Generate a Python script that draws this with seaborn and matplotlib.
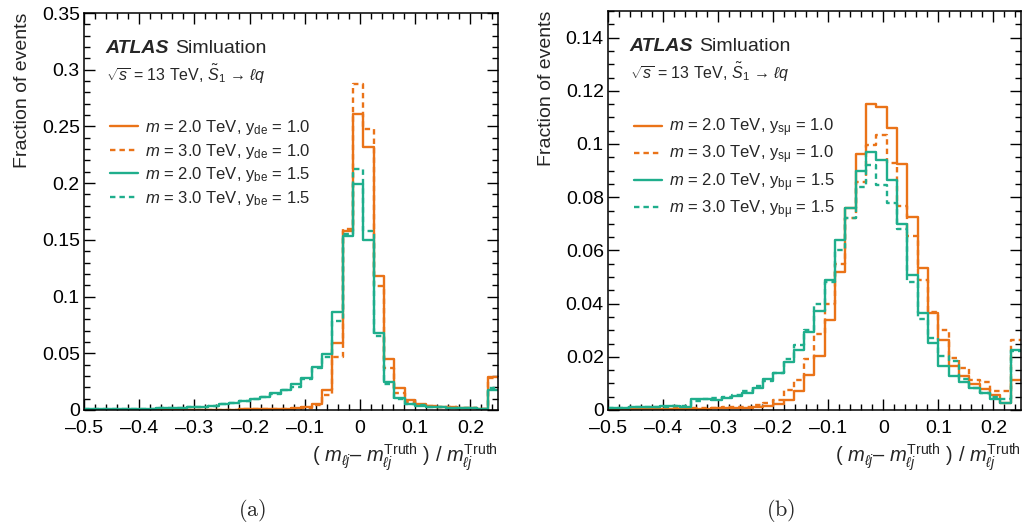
import numpy as np
import pandas as pd
import matplotlib
matplotlib.use("Agg")
import matplotlib.pyplot as plt
from matplotlib.lines import Line2D
from matplotlib.ticker import MultipleLocator, FormatStrFormatter
import seaborn as sns

# ---------------- data ----------------
x_min, x_max, n_bins = -0.5, 0.25, 40

# panel (a): electron channel
a_m2 = [0.0001, 0.0001, 0.0001, 0.0001, 0.0001, 0.0001, 0.0002, 0.0002, 0.0002, 0.0002,
        0.0003, 0.0003, 0.0003, 0.0004, 0.0004, 0.0005, 0.0006, 0.0008, 0.001, 0.0012,
        0.0015, 0.0024, 0.005, 0.0176, 0.059, 0.158, 0.261, 0.232, 0.118, 0.0447,
        0.019, 0.0088, 0.0053, 0.0038, 0.003, 0.0025, 0.002, 0.0015, 0.001, 0.0294]
a_m3 = [0.0001, 0.0001, 0.0001, 0.0001, 0.0001, 0.0001, 0.0002, 0.0002, 0.0002, 0.0002,
        0.0003, 0.0003, 0.0003, 0.0004, 0.0004, 0.0005, 0.0006, 0.0007, 0.0009, 0.001,
        0.0013, 0.002, 0.004, 0.013, 0.047, 0.16, 0.2875, 0.248, 0.109, 0.037,
        0.0147, 0.007, 0.0045, 0.0035, 0.003, 0.0025, 0.002, 0.0015, 0.001, 0.028]
a_b2 = [0.0005, 0.0006, 0.0007, 0.0008, 0.0009, 0.001, 0.0012, 0.0015, 0.0017, 0.002,
        0.0025, 0.003, 0.0037, 0.005, 0.0065, 0.0079, 0.0097, 0.0118, 0.0147, 0.0176,
        0.023, 0.028, 0.038, 0.049, 0.086, 0.153, 0.199, 0.15, 0.068, 0.025,
        0.0103, 0.0053, 0.0038, 0.003, 0.0025, 0.002, 0.002, 0.0015, 0.001, 0.018]
a_b3 = [0.0005, 0.0006, 0.0007, 0.0008, 0.0009, 0.001, 0.0012, 0.0015, 0.0017, 0.002,
        0.0025, 0.003, 0.0037, 0.005, 0.0063, 0.0078, 0.0095, 0.0115, 0.0145, 0.0172,
        0.020, 0.027, 0.037, 0.047, 0.0785, 0.155, 0.2125, 0.158, 0.065, 0.023,
        0.010, 0.0055, 0.004, 0.003, 0.0025, 0.002, 0.002, 0.0015, 0.001, 0.019]

# panel (b): muon channel
b_m2 = [0.0003, 0.0003, 0.0003, 0.0003, 0.0004, 0.0004, 0.0004, 0.0005, 0.0005, 0.0005,
        0.0006, 0.0006, 0.0006, 0.0008, 0.001, 0.0014, 0.0024, 0.0039, 0.0072, 0.0131,
        0.0204, 0.0339, 0.0517, 0.076, 0.0962, 0.115, 0.114, 0.106, 0.0923, 0.0724,
        0.0535, 0.0364, 0.0262, 0.0167, 0.0127, 0.0099, 0.008, 0.0058, 0.0027, 0.0114]
b_m3 = [0.0005, 0.0005, 0.0005, 0.0006, 0.0006, 0.0006, 0.0007, 0.0007, 0.0008, 0.0008,
        0.0009, 0.001, 0.001, 0.0012, 0.0017, 0.0025, 0.0036, 0.0074, 0.0114, 0.0192,
        0.0287, 0.040, 0.055, 0.072, 0.0858, 0.0998, 0.1035, 0.0927, 0.0767, 0.0655,
        0.0487, 0.0367, 0.030, 0.0196, 0.0158, 0.0114, 0.0104, 0.007, 0.007, 0.0264]
b_b2 = [0.0008, 0.0008, 0.001, 0.001, 0.0012, 0.0015, 0.0015, 0.0012, 0.004, 0.004,
        0.0039, 0.0046, 0.0054, 0.0064, 0.0083, 0.0117, 0.0139, 0.0179, 0.0225, 0.0293,
        0.0374, 0.0487, 0.064, 0.076, 0.09, 0.097, 0.094, 0.0864, 0.07, 0.0508,
        0.0364, 0.0252, 0.0164, 0.0127, 0.0104, 0.0083, 0.0064, 0.0042, 0.0027, 0.0227]
b_b3 = [0.0008, 0.0008, 0.001, 0.001, 0.0012, 0.0013, 0.0015, 0.0015, 0.0035, 0.004,
        0.0045, 0.005, 0.0055, 0.007, 0.009, 0.011, 0.014, 0.019, 0.0245, 0.030,
        0.040, 0.048, 0.060, 0.072, 0.084, 0.092, 0.0846, 0.078, 0.068, 0.048,
        0.0342, 0.027, 0.0204, 0.0183, 0.0115, 0.0083, 0.0065, 0.005, 0.004, 0.022]

labels_a = [r"$m$ = 2.0 TeV, y$_{\mathrm{de}}$ = 1.0",
            r"$m$ = 3.0 TeV, y$_{\mathrm{de}}$ = 1.0",
            r"$m$ = 2.0 TeV, y$_{\mathrm{be}}$ = 1.5",
            r"$m$ = 3.0 TeV, y$_{\mathrm{be}}$ = 1.5"]
labels_b = [r"$m$ = 2.0 TeV, y$_{\mathrm{sμ}}$ = 1.0",
            r"$m$ = 3.0 TeV, y$_{\mathrm{sμ}}$ = 1.0",
            r"$m$ = 2.0 TeV, y$_{\mathrm{bμ}}$ = 1.5",
            r"$m$ = 3.0 TeV, y$_{\mathrm{bμ}}$ = 1.5"]

# ---------------- style ----------------
ORANGE = "#EA7318"
GREEN = "#1FAE8C"
colors = [ORANGE, ORANGE, GREEN, GREEN]
DASH = (0, (2.3, 1.7))
styles = ["-", DASH, "-", DASH]

sns.set_theme(style="ticks")
plt.rcParams.update({
    "font.family": ["Liberation Sans", "DejaVu Sans"],
    "mathtext.fontset": "custom",
    "mathtext.rm": "Liberation Sans",
    "mathtext.it": "Liberation Sans:italic",
    "mathtext.bf": "Liberation Sans:bold",
    "axes.linewidth": 1.1,
    "axes.edgecolor": "black",
    "xtick.color": "black",
    "ytick.color": "black",
})

edges = np.linspace(x_min, x_max, n_bins + 1)
centers = 0.5 * (edges[:-1] + edges[1:])

fig = plt.figure(figsize=(10.23, 5.24), dpi=100)
W, H = 1023, 524
axA = fig.add_axes([84 / W, 1 - 410 / H, 414 / W, 397 / H])
axB = fig.add_axes([608 / W, 1 - 410 / H, 413 / W, 399 / H])


def draw(ax, series, labels, ymax, ymajor, yminor, yfmt):
    for vals, c, ls in zip(series, colors, styles):
        df = pd.DataFrame({"x": centers, "w": np.asarray(vals, dtype=float)})
        sns.histplot(data=df, x="x", weights="w", bins=n_bins, binrange=(x_min, x_max),
                     element="step", fill=False, color=c, linewidth=1.7,
                     linestyle=ls, ax=ax)
    ax.set_xlim(x_min, x_max)
    ax.set_ylim(0, ymax)
    ax.xaxis.set_major_locator(MultipleLocator(0.1))
    ax.xaxis.set_minor_locator(MultipleLocator(0.02))
    ax.yaxis.set_major_locator(MultipleLocator(ymajor))
    ax.yaxis.set_minor_locator(MultipleLocator(yminor))
    ax.yaxis.set_major_formatter(FormatStrFormatter(yfmt))
    ax.xaxis.set_major_formatter(plt.FuncFormatter(
        lambda v, p: "0" if abs(v) < 1e-9 else ("\u2013%g" % abs(v) if v < 0 else "%g" % v)))
    ax.tick_params(which="both", direction="in", top=True, right=True, labelsize=14,
                   width=1.0)
    ax.tick_params(which="major", length=8)
    ax.tick_params(which="minor", length=4.5)
    ax.tick_params(axis="x", pad=7)
    ax.tick_params(axis="y", pad=3)
    ax.set_ylabel("Fraction of events", loc="top", fontsize=14, labelpad=8)
    ax.set_xlabel(r"( $m_{\ell j}$– $m_{\ell j}^{\mathrm{Truth}}$ ) / $m_{\ell j}^{\mathrm{Truth}}$",
                  loc="right", fontsize=14.5, labelpad=3)
    handles = [Line2D([], [], color=c, lw=1.7, ls=ls) for c, ls in zip(colors, styles)]
    ax.legend(handles, labels, loc="upper left", bbox_to_anchor=(0.064, 0.735),
              frameon=False, fontsize=12, handlelength=1.65, handletextpad=0.45,
              labelspacing=0.27, borderaxespad=0, borderpad=0)
    t = ax.text(0.051, 0.91, "ATLAS", transform=ax.transAxes, fontsize=14,
                fontweight="bold", fontstyle="italic", va="center", ha="left")
    ax.annotate("Simluation", xy=(1, 0.5), xycoords=t, xytext=(5, 0),
                textcoords="offset points", fontsize=14, va="center", ha="left")
    ax.text(0.053, 0.846, r"$\sqrt{s}$ = 13 TeV, $\tilde{S}_{1}$ → $\ell q$",
            transform=ax.transAxes, fontsize=11.5, va="center", ha="left")


draw(axA, [a_m2, a_m3, a_b2, a_b3], labels_a, 0.35, 0.05, 0.01, "%g")
draw(axB, [b_m2, b_m3, b_b2, b_b3], labels_b, 0.15, 0.02, 0.005, "%g")

fig.text(252 / W, 1 - 510 / H, r"$\mathrm{(a)}$", math_fontfamily="cm", fontsize=16,
         ha="center", va="center")
fig.text(781 / W, 1 - 510 / H, r"$\mathrm{(b)}$", math_fontfamily="cm", fontsize=16,
         ha="center", va="center")

fig.savefig("out.png", dpi=100)
